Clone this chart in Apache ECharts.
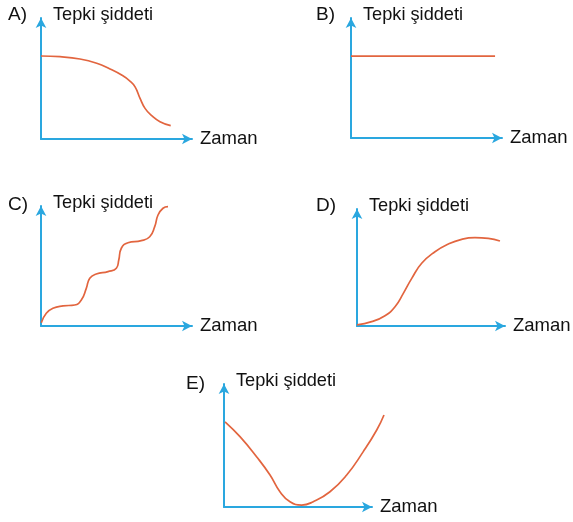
<!DOCTYPE html>
<html>
<head>
<meta charset="utf-8">
<script src="https://cdn.jsdelivr.net/npm/echarts@6/dist/echarts.min.js"></script>
<style>
  html, body { margin: 0; padding: 0; background: #fff; }
  #chart { width: 573px; height: 522px; }
</style>
</head>
<body>
<div id="chart"></div>
<script>
// panel letters and axis names
var panelLabels = ["A)", "B)", "C)", "D)", "E)"];
var yName = "Tepki şiddeti";
var xName = "Zaman";

// curves (x: time 0-10, y: response 0-10)
var curveA = [[0, 6.86], [1.26, 6.80], [2.58, 6.61], [3.69, 6.26], [4.57, 5.79], [5.34, 5.29],
  [5.89, 4.79], [6.23, 4.31], [6.56, 3.36], [6.89, 2.53], [7.33, 1.93], [7.88, 1.43],
  [8.59, 1.10]];
var curveB = [[0, 6.83], [9.54, 6.83]];
var curveC = [[0.02, 0.28], [0.35, 1.06], [0.79, 1.48], [1.46, 1.67], [2.23, 1.75], [2.67, 2.17],
  [3.0, 3.14], [3.23, 3.98], [3.66, 4.33], [4.44, 4.53], [4.99, 4.81], [5.15, 5.5],
  [5.32, 6.48], [5.76, 6.94], [6.64, 7.11], [7.2, 7.44], [7.53, 8.28], [7.75, 9.25],
  [8.08, 9.81], [8.41, 9.94]];
var curveD = [[0, 0.1], [0.99, 0.37], [1.89, 0.88], [2.57, 1.65], [3.13, 2.79], [3.70, 4.07],
  [4.37, 5.36], [5.27, 6.35], [6.17, 7.01], [7.07, 7.41], [7.97, 7.55], [8.87, 7.49],
  [9.66, 7.26]];
var curveE = [[0.07, 6.93], [1.08, 5.72], [2.20, 4.09], [3.11, 2.60], [3.78, 1.24], [4.46, 0.43],
  [5.25, 0.16], [6.03, 0.43], [7.16, 1.24], [8.29, 2.60], [9.41, 4.50], [10.32, 6.26],
  [10.81, 7.48]];
var curves = [curveA, curveB, curveC, curveD, curveE];

// grid boxes [left, top, width, height] and label spots
var boxes = [
  [41, 18, 151, 121],
  [351, 18, 151, 120],
  [41, 206, 151, 120],
  [357, 209, 148, 117],
  [224, 384, 148, 123]
];
var labelPos = [[8, 5], [316, 5], [8, 195], [316, 196], [186, 374]];

var blue = "#2aa7df";
var orange = "#e2653f";
var font = "Liberation Sans, Arial, sans-serif";

var grids = [], xAxes = [], yAxes = [], series = [], titles = [];
boxes.forEach(function (b, i) {
  grids.push({ left: b[0], top: b[1], width: b[2], height: b[3] });
  var axisLine = {
    show: true,
    symbol: ["none", "arrow"],
    symbolSize: [8, 10],
    lineStyle: { color: blue, width: 2 }
  };
  xAxes.push({
    gridIndex: i, type: "value", min: 0, max: 10,
    axisLine: axisLine, axisTick: { show: false }, axisLabel: { show: false },
    splitLine: { show: false },
    name: xName, nameLocation: "end", nameGap: 8,
    nameTextStyle: { color: "#111", fontSize: 18.5, fontFamily: font }
  });
  yAxes.push({
    gridIndex: i, type: "value", min: 0, max: 10,
    axisLine: axisLine, axisTick: { show: false }, axisLabel: { show: false },
    splitLine: { show: false },
    name: yName, nameLocation: "end", nameGap: 3,
    nameTextStyle: { color: "#111", fontSize: 18.2, fontFamily: font, align: "left",
      verticalAlign: "middle", padding: [0, 0, 0, 12] }
  });
  titles.push({
    text: panelLabels[i], left: labelPos[i][0], top: labelPos[i][1], padding: 0,
    textStyle: { color: "#111", fontSize: 19, fontWeight: "normal", fontFamily: font }
  });
});

// E's curve runs past the arrow tip, so it sits on a wider hidden grid with the same scale
var eb = boxes[4];
grids.push({ left: eb[0], top: eb[1], width: eb[2] * 1.2, height: eb[3] });
xAxes.push({ gridIndex: 5, type: "value", min: 0, max: 12, show: false });
yAxes.push({ gridIndex: 5, type: "value", min: 0, max: 10, show: false });

curves.forEach(function (c, i) {
  var gi = i === 4 ? 5 : i;
  series.push({
    type: "line", xAxisIndex: gi, yAxisIndex: gi,
    data: c, smooth: 0.5, showSymbol: false, clip: false,
    lineStyle: { color: orange, width: 1.7 }, animation: false
  });
});

var chart = echarts.init(document.getElementById("chart"));
chart.setOption({
  backgroundColor: "#fff",
  animation: false,
  title: titles,
  grid: grids,
  xAxis: xAxes,
  yAxis: yAxes,
  series: series
});
</script>
</body>
</html>
